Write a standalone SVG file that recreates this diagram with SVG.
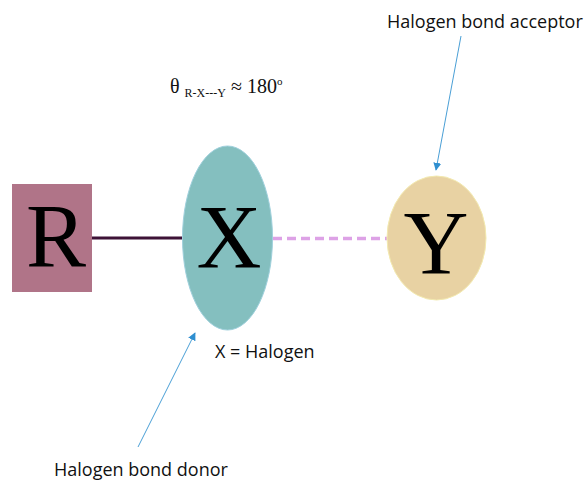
<svg xmlns="http://www.w3.org/2000/svg" width="585" height="482" viewBox="0 0 585 482">
<style>
.big{font-family:"Liberation Serif",serif;font-size:90px;fill:#000;text-anchor:middle}
.lbl{font-family:"Open Sans","Liberation Sans",sans-serif;font-size:18px;fill:#111}
.math{font-family:"Liberation Serif",serif;fill:#111}
.arrow{stroke:#4a9fd6;stroke-width:1;fill:none}
</style>
<defs>
<marker id="ah" viewBox="0 0 10 10" refX="9" refY="5" markerWidth="8" markerHeight="8" orient="auto" markerUnits="userSpaceOnUse">
<path d="M0,0 L10,5 L0,10 z" fill="#2f8fd0"/>
</marker>
</defs>
<rect width="585" height="482" fill="#fff"/>
<g id="connectors">
<line x1="92" y1="238" x2="185" y2="238" stroke="#3d1236" stroke-width="3"/>
<line x1="273" y1="238.5" x2="388" y2="238.5" stroke="#dda2e6" stroke-width="3.5" stroke-dasharray="9,5"/>
<line class="arrow" x1="461" y1="36" x2="436" y2="170" marker-end="url(#ah)"/>
<line class="arrow" x1="138" y1="447" x2="195" y2="333" marker-end="url(#ah)"/>
</g>
<g id="R">
<rect x="12" y="184" width="80" height="108" fill="#b07488"/>
<text class="big" x="56" y="267">R</text>
</g>
<g id="X">
<ellipse cx="227.5" cy="238" rx="45" ry="92" fill="#84bfbf" stroke="#9fd0dc" stroke-width="1"/>
<text class="big" x="229" y="268">X</text>
</g>
<g id="Y">
<ellipse cx="436.5" cy="238" rx="49.5" ry="62" fill="#e8d2a3" stroke="#f3eab0" stroke-width="1"/>
<text class="big" x="436" y="274" font-size="94">Y</text>
</g>
<g id="angle">
<text class="math" x="170" y="93" font-size="20">θ <tspan font-size="12" dy="4">R-X---Y</tspan><tspan dy="-4"> ≈ 180</tspan><tspan font-size="11" dy="-8">o</tspan></text>
</g>
<text class="lbl" x="387" y="28">Halogen bond acceptor</text>
<text class="lbl" x="215" y="358">X = Halogen</text>
<text class="lbl" x="54" y="476">Halogen bond donor</text>
</svg>
